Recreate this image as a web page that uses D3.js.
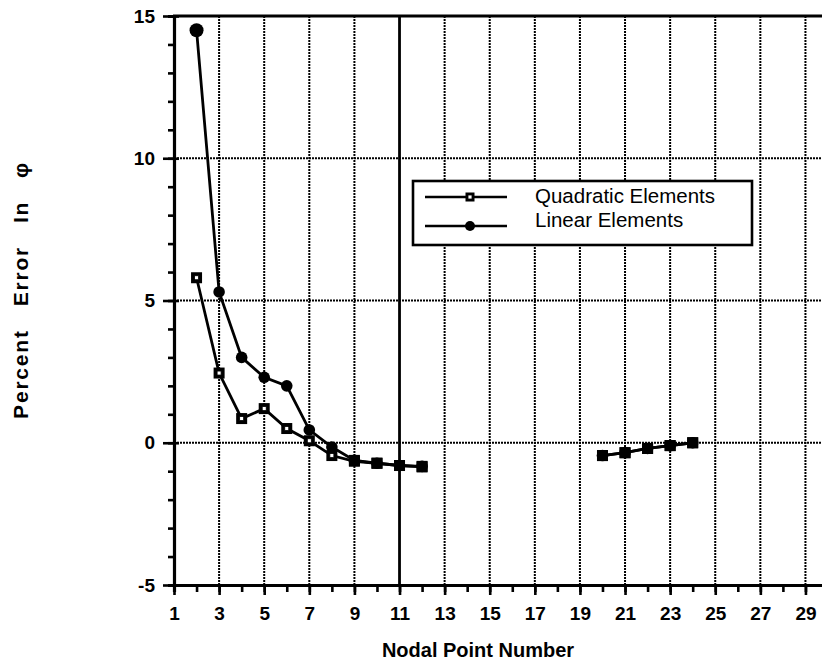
<!DOCTYPE html>
<html>
<head>
<meta charset="utf-8">
<script src="https://cdn.jsdelivr.net/npm/d3@7"></script>
<style>
  body { margin: 0; background: #fff; }
  svg { display: block; font-family: "Liberation Sans", Arial, sans-serif; }
  .axis path, .axis line { stroke: #000; }
  .axis text { font-size: 19px; font-weight: bold; fill: #000; }
</style>
</head>
<body>
<svg id="chart" width="822" height="666"></svg>
<script>
// nodal points and percent error (null = no value)
var nodes = [2, 3, 4, 5, 6, 7, 8, 9, 10, 11, 12, 13, 14, 15, 16, 17, 18, 19, 20, 21, 22, 23, 24];
var quadratic = [5.8, 2.45, 0.85, 1.2, 0.5, 0.07, -0.45, -0.65, -0.72, -0.8, -0.85,
  null, null, null, null, null, null, null, -0.45, -0.35, -0.2, -0.1, 0.0];
var linear = [14.5, 5.3, 3.0, 2.3, 2.0, 0.45, -0.15, -0.62, -0.72, -0.8, -0.83,
  null, null, null, null, null, null, null, -0.45, -0.35, -0.2, -0.1, 0.0];

var xTicks = [1, 3, 5, 7, 9, 11, 13, 15, 17, 19, 21, 23, 25, 27, 29];
var yTicks = [-5, 0, 5, 10, 15];
var seriesNames = ["Quadratic Elements", "Linear Elements"];

var svg = d3.select("#chart");

// scales
var x = d3.scaleLinear().domain([1, 30]).range([174, 828]);
var y = d3.scaleLinear().domain([-5, 15]).range([585, 16]);

// dotted grid
var grid = svg.append("g");
grid.selectAll("line.v")
  .data(xTicks.filter(function(d) { return d > 1 && d != 11; }))
  .enter().append("line")
  .attr("x1", function(d) { return x(d); })
  .attr("x2", function(d) { return x(d); })
  .attr("y1", y(15)).attr("y2", y(-5))
  .attr("stroke", "#000").attr("stroke-width", 2)
  .attr("stroke-dasharray", "2,1");
grid.selectAll("line.h")
  .data([0, 5, 10])
  .enter().append("line")
  .attr("x1", x(1)).attr("x2", 822)
  .attr("y1", function(d) { return y(d); })
  .attr("y2", function(d) { return y(d); })
  .attr("stroke", "#000").attr("stroke-width", 2)
  .attr("stroke-dasharray", "2,1");
// solid line at node 11
grid.append("line")
  .attr("x1", x(11)).attr("x2", x(11))
  .attr("y1", y(15)).attr("y2", y(-5))
  .attr("stroke", "#000").attr("stroke-width", 2.8);
// top border
grid.append("line")
  .attr("x1", x(1) - 1).attr("x2", 822)
  .attr("y1", y(15)).attr("y2", y(15))
  .attr("stroke", "#000").attr("stroke-width", 3.2);

// x axis: minor then major
svg.append("g")
  .attr("class", "axis")
  .attr("transform", "translate(0," + y(-5) + ")")
  .call(d3.axisBottom(x).tickValues(d3.range(1, 31)).tickSize(7).tickFormat(""))
  .call(function(g) {
    g.select(".domain").attr("stroke-width", 3.2);
    g.selectAll(".tick line").attr("stroke-width", 2.6);
  });
svg.append("g")
  .attr("class", "axis")
  .attr("transform", "translate(0," + y(-5) + ")")
  .call(d3.axisBottom(x).tickValues(xTicks).tickSize(10).tickPadding(12))
  .call(function(g) {
    g.select(".domain").remove();
    g.selectAll(".tick line").attr("stroke-width", 2.6);
  });

// y axis: minor then major
svg.append("g")
  .attr("class", "axis")
  .attr("transform", "translate(" + x(1) + ",0)")
  .call(d3.axisLeft(y).tickValues(d3.range(-5, 16)).tickSize(6).tickFormat(""))
  .call(function(g) {
    g.select(".domain").attr("stroke-width", 3.2);
    g.selectAll(".tick line").attr("stroke-width", 2.6);
  });
svg.append("g")
  .attr("class", "axis")
  .attr("transform", "translate(" + x(1) + ",0)")
  .call(d3.axisLeft(y).tickValues(yTicks).tickSize(11).tickPadding(8)
    .tickFormat(function(d) { return String(d); }))
  .call(function(g) {
    g.select(".domain").remove();
    g.selectAll(".tick line").attr("x2", 5).attr("x1", -11).attr("stroke-width", 2.6);
  });

// series
var rows = nodes.map(function(n, i) {
  return { n: n, q: quadratic[i], l: linear[i] };
});

function lineFor(key) {
  return d3.line()
    .defined(function(d) { return d[key] != null; })
    .x(function(d) { return x(d.n); })
    .y(function(d) { return y(d[key]); });
}

function squareMarker(g, s) {
  g.append("rect").attr("x", -s / 2).attr("y", -s / 2).attr("width", s).attr("height", s).attr("fill", "#000");
  g.append("rect").attr("x", -2).attr("y", -2).attr("width", 4).attr("height", 4)
    .attr("fill", "#fff").attr("stroke", "#000").attr("stroke-width", 0.8);
}

svg.append("path").datum(rows)
  .attr("fill", "none").attr("stroke", "#000").attr("stroke-width", 2.8)
  .attr("d", lineFor("q"));
svg.append("path").datum(rows)
  .attr("fill", "none").attr("stroke", "#000").attr("stroke-width", 2.8)
  .attr("d", lineFor("l"));

svg.selectAll("g.qm")
  .data(rows.filter(function(d) { return d.q != null; }))
  .enter().append("g")
  .attr("transform", function(d) { return "translate(" + x(d.n) + "," + y(d.q) + ")"; })
  .each(function() { squareMarker(d3.select(this), 11); });

// linear markers; from node 9 on they sit on the squares and fill them in
svg.selectAll("g.lm")
  .data(rows.filter(function(d) { return d.l != null; }))
  .enter().append("g")
  .attr("transform", function(d) { return "translate(" + x(d.n) + "," + y(d.l) + ")"; })
  .each(function(d) {
    var g = d3.select(this);
    g.append("circle").attr("r", d.n == 2 ? 7 : 5.8).attr("fill", "#000");
    if (d.n >= 9) g.append("rect").attr("x", -5.5).attr("y", -5.5).attr("width", 11).attr("height", 11).attr("fill", "#000");
  });

// legend
var legend = svg.append("g");
legend.append("rect")
  .attr("x", 413).attr("y", 181).attr("width", 339).attr("height", 64)
  .attr("fill", "#fff").attr("stroke", "#000").attr("stroke-width", 2.6);
var items = legend.selectAll("g.item")
  .data(seriesNames)
  .enter().append("g")
  .attr("transform", function(d, i) { return "translate(0," + (i == 0 ? 197 : 226) + ")"; });
items.append("line")
  .attr("x1", 425).attr("x2", 507).attr("y1", 0).attr("y2", 0)
  .attr("stroke", "#000").attr("stroke-width", 2.4);
items.each(function(d, i) {
  var m = d3.select(this).append("g").attr("transform", "translate(470,0)");
  if (i == 0) {
    squareMarker(m, 9);
  } else {
    m.append("circle").attr("r", 5).attr("fill", "#000");
  }
});
items.append("text")
  .attr("x", 535).attr("y", function(d, i) { return i == 0 ? 6 : 1; })
  .attr("font-size", 20.5).attr("fill", "#000")
  .text(function(d) { return d; });

// axis titles
svg.append("text")
  .attr("x", 478).attr("y", 657)
  .attr("text-anchor", "middle")
  .attr("font-size", 20).attr("font-weight", "bold")
  .text("Nodal Point Number");
svg.append("text")
  .attr("transform", "translate(28,290) rotate(-90)")
  .attr("text-anchor", "middle")
  .attr("font-size", 21).attr("font-weight", "bold")
  .attr("letter-spacing", 1.8)
  .style("white-space", "pre")
  .text("Percent   Error   In   \u03c6");
</script>
</body>
</html>
